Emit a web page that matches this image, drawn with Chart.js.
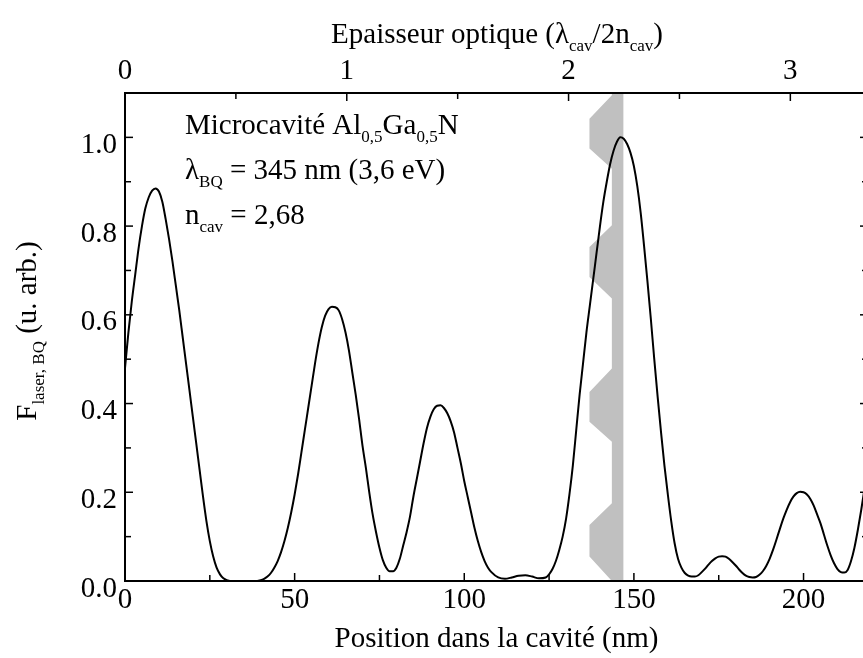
<!DOCTYPE html>
<html>
<head>
<meta charset="utf-8">
<script src="https://cdn.jsdelivr.net/npm/chart.js"></script>
<style>
  html, body { margin: 0; padding: 0; background: #fff; overflow: hidden; }
  #wrap { position: absolute; left: 0; top: 0; width: 870px; height: 658px; }
</style>
</head>
<body>
<div id="wrap"><canvas id="cavityChart" width="870" height="658"></canvas></div>
<script>
// Position dans la cavité (nm) -> F laser, BQ (u. arb.)
const positionNm = [
  0, 1, 2, 3, 4, 5, 6, 7, 8, 9, 10, 11, 12, 13, 14, 15, 16, 17, 18, 19,
  20, 21, 22, 23, 24, 25, 26, 27, 28, 29, 30, 32, 34, 36, 38, 40, 41, 42, 43, 44,
  45, 46, 47, 48, 49, 50, 51, 52, 53, 54, 55, 56, 57, 58, 59, 60, 61, 62, 63, 64,
  65, 66, 67, 68, 69, 70, 71, 72, 73, 74, 75, 76, 77, 78, 79, 80, 81, 82, 83, 84,
  85, 86, 87, 88, 89, 90, 91, 92, 93, 94, 95, 96, 97, 98, 99, 100, 101, 102, 103, 104,
  105, 106, 107, 108, 110, 112, 114, 116, 118, 120, 122, 124, 125, 126, 127, 128, 129, 130, 131, 132,
  133, 134, 135, 136, 137, 138, 139, 140, 141, 142, 143, 144, 145, 146, 147, 148, 149, 150, 151, 152,
  153, 154, 155, 156, 157, 158, 159, 160, 161, 162, 163, 164, 165, 166, 167, 168, 169, 170, 171, 172,
  173, 174, 175, 176, 177, 178, 179, 180, 181, 182, 183, 184, 185, 186, 187, 188, 189, 190, 191, 192,
  193, 194, 195, 196, 197, 198, 199, 200, 201, 202, 203, 204, 205, 206, 207, 208, 209, 210, 211, 212,
  213, 214, 215, 216, 217, 218, 219
];
const fieldValues = [
  0.48, 0.56, 0.63, 0.69, 0.75, 0.80, 0.84, 0.865, 0.88, 0.885, 0.878, 0.855, 0.815, 0.77, 0.72, 0.665, 0.61, 0.55, 0.49, 0.43,
  0.37, 0.31, 0.25, 0.19, 0.135, 0.09, 0.055, 0.03, 0.015, 0.006, 0.002, 0, 0, 0, 0, 0.002, 0.005, 0.01, 0.018, 0.03,
  0.045, 0.065, 0.09, 0.12, 0.155, 0.195, 0.24, 0.29, 0.34, 0.39, 0.44, 0.49, 0.535, 0.572, 0.598, 0.613, 0.618, 0.617, 0.61, 0.59,
  0.56, 0.52, 0.47, 0.42, 0.365, 0.305, 0.255, 0.2, 0.15, 0.11, 0.075, 0.047, 0.03, 0.022, 0.022, 0.03, 0.05, 0.08, 0.11, 0.145,
  0.19, 0.23, 0.27, 0.31, 0.345, 0.37, 0.387, 0.395, 0.396, 0.39, 0.378, 0.36, 0.335, 0.3, 0.265, 0.225, 0.19, 0.155, 0.12, 0.09,
  0.065, 0.045, 0.03, 0.02, 0.008, 0.005, 0.008, 0.012, 0.013, 0.01, 0.006, 0.008, 0.015, 0.027, 0.045, 0.07, 0.1, 0.14, 0.195, 0.26,
  0.34, 0.42, 0.49, 0.56, 0.62, 0.68, 0.74, 0.8, 0.855, 0.9, 0.94, 0.97, 0.99, 1.0, 0.997, 0.985, 0.965, 0.935, 0.89, 0.83,
  0.755, 0.675, 0.59, 0.5, 0.415, 0.335, 0.26, 0.195, 0.135, 0.085, 0.05, 0.03, 0.018, 0.012, 0.01, 0.01, 0.013, 0.02, 0.028, 0.037,
  0.045, 0.051, 0.055, 0.056, 0.055, 0.05, 0.043, 0.035, 0.026, 0.018, 0.012, 0.009, 0.008, 0.009, 0.014, 0.022, 0.034, 0.05, 0.07, 0.093,
  0.117, 0.14, 0.16, 0.177, 0.19, 0.198, 0.201, 0.2, 0.195, 0.185, 0.17, 0.15, 0.13, 0.105, 0.08, 0.058, 0.04, 0.027, 0.02, 0.019,
  0.025, 0.045, 0.075, 0.115, 0.16, 0.21, 0.26
];

// grey zone of the quantum wells (zigzag band)
const bandX = [146.9, 146.9, 143.5, 136.9, 136.9, 143.5, 143.5, 136.9, 136.9, 143.5, 143.5, 136.9, 136.9, 143.5, 143.5, 136.9, 136.9, 143.5, 143.5];
const bandY = [1.1, 0, 0, 0.055, 0.126, 0.175, 0.314, 0.359, 0.426, 0.479, 0.637, 0.685, 0.753, 0.802, 0.929, 0.975, 1.042, 1.095, 1.1];

// ticks
const xMajorTicks = [0, 50, 100, 150, 200];
const xTickLabels = ['0', '50', '100', '150', '200'];
const xMinorTicks = [25, 75, 125, 175];
const yMajorTicks = [0, 0.2, 0.4, 0.6, 0.8, 1.0];
const yTickLabels = ['0.0', '0.2', '0.4', '0.6', '0.8', '1.0'];
const yMinorTicks = [0.1, 0.3, 0.5, 0.7, 0.9];
const topMajorTicks = [0, 1, 2, 3];
const topTickLabels = ['0', '1', '2', '3'];
const topMinorTicks = [0.5, 1.5, 2.5];

const xMax = 219;
const nmPerOpticalUnit = 65.37; // lambda_cav / 2 n_cav

// texts (second item = 1 means subscript)
const topTitle = [['Epaisseur optique (λ'], ['cav', 1], ['/2n'], ['cav', 1], [')']];
const leftTitle = [['F'], ['laser, BQ', 1], [' (u. arb.)']];
const infoLines = [
  [['Microcavité Al'], ['0,5', 1], ['Ga'], ['0,5', 1], ['N']],
  [['λ'], ['BQ', 1], [' = 345 nm (3,6 eV)']],
  [['n'], ['cav', 1], [' = 2,68']]
];

const FONT = '"Liberation Serif", "Times New Roman", serif';
const SIZE = 29;
const SUB = 17;

function tickList(majors, minors) {
  return majors.concat(minors).sort((a, b) => a - b).map(v => ({ value: v }));
}

function labelOf(majors, labels) {
  return v => {
    const i = majors.indexOf(v);
    return i >= 0 ? labels[i] : '';
  };
}

// text with subscripts
function drawRich(ctx, parts, x, y, align, drop) {
  const widths = parts.map(p => {
    ctx.font = (p[1] ? SUB : SIZE) + 'px ' + FONT;
    return ctx.measureText(p[0]).width;
  });
  const total = widths.reduce((a, b) => a + b, 0);
  let cx = align === 'center' ? x - total / 2 : x;
  parts.forEach((p, i) => {
    ctx.font = (p[1] ? SUB : SIZE) + 'px ' + FONT;
    ctx.fillText(p[0], cx, p[1] ? y + drop : y);
    cx += widths[i];
  });
}

// frame + inward ticks + rich texts
const frameTicks = {
  id: 'frameTicks',
  afterDatasetsDraw(chart) {
    const { ctx, chartArea: a, scales } = chart;
    ctx.save();
    ctx.strokeStyle = '#000';
    ctx.lineWidth = 1.5;
    const seg = (x1, y1, x2, y2) => { ctx.beginPath(); ctx.moveTo(x1, y1); ctx.lineTo(x2, y2); ctx.stroke(); };
    scales.x.ticks.forEach(t => {
      const px = scales.x.getPixelForValue(t.value);
      seg(px, a.bottom, px, a.bottom - (t.label ? 8 : 6));
    });
    scales.x2.ticks.forEach(t => {
      const px = scales.x2.getPixelForValue(t.value);
      seg(px, a.top, px, a.top + (t.label ? 8 : 6));
    });
    scales.y.ticks.forEach(t => {
      const py = scales.y.getPixelForValue(t.value);
      seg(a.left, py, a.left + (t.label ? 8 : 6), py);
      seg(a.right, py, a.right - (t.label ? 8 : 6), py);
    });
    ctx.lineWidth = 2;
    ctx.strokeRect(a.left, a.top, a.right - a.left, a.bottom - a.top);
    ctx.restore();
  },
  afterDraw(chart) {
    const ctx = chart.ctx;
    ctx.save();
    ctx.fillStyle = '#000';
    ctx.textBaseline = 'alphabetic';
    ctx.textAlign = 'left';
    drawRich(ctx, topTitle, 497, 43, 'center', 8);
    infoLines.forEach((line, i) => drawRich(ctx, line, 185, 134 + i * 45, 'left', 8));
    ctx.translate(36, 331);
    ctx.rotate(-Math.PI / 2);
    drawRich(ctx, leftTitle, 0, 0, 'center', 8);
    ctx.restore();
  }
};

Chart.defaults.font.family = FONT;
Chart.defaults.color = '#000';

new Chart(document.getElementById('cavityChart'), {
  type: 'line',
  data: {
    datasets: [
      {
        label: 'F laser, BQ',
        data: positionNm.map((x, i) => ({ x: x, y: fieldValues[i] })),
        borderColor: '#000',
        borderWidth: 2,
        pointRadius: 0,
        fill: false,
        cubicInterpolationMode: 'monotone'
      },
      {
        label: 'Puits',
        data: bandX.map((x, i) => ({ x: x, y: bandY[i] })),
        borderWidth: 0,
        borderColor: 'rgba(0,0,0,0)',
        backgroundColor: '#c0c0c0',
        pointRadius: 0,
        fill: 'shape'
      }
    ]
  },
  options: {
    responsive: false,
    animation: false,
    devicePixelRatio: 1,
    layout: { padding: { left: 0, right: 2, top: 0, bottom: 0 } },
    plugins: { legend: { display: false }, tooltip: { enabled: false } },
    scales: {
      x: {
        type: 'linear', position: 'bottom', min: 0, max: xMax,
        afterBuildTicks: s => { s.ticks = tickList(xMajorTicks, xMinorTicks); },
        afterFit: s => { s.height = 77; },
        grid: { display: false, drawTicks: false }, border: { display: false },
        ticks: { autoSkip: false, maxRotation: 0, padding: 2, font: { size: SIZE }, callback: labelOf(xMajorTicks, xTickLabels) },
        title: { display: true, text: 'Position dans la cavité (nm)', font: { size: SIZE }, padding: { top: 0, bottom: 1 } }
      },
      x2: {
        type: 'linear', axis: 'x', position: 'top', min: 0, max: xMax / nmPerOpticalUnit,
        afterBuildTicks: s => { s.ticks = tickList(topMajorTicks, topMinorTicks); },
        afterFit: s => { s.height = 93; },
        grid: { display: false, drawTicks: false }, border: { display: false },
        ticks: { autoSkip: false, maxRotation: 0, padding: 4, font: { size: SIZE }, callback: labelOf(topMajorTicks, topTickLabels) }
      },
      y: {
        type: 'linear', position: 'left', min: 0, max: 1.1,
        afterBuildTicks: s => { s.ticks = tickList(yMajorTicks, yMinorTicks); },
        afterFit: s => { s.width = 125; },
        grid: { display: false, drawTicks: false }, border: { display: false },
        ticks: { autoSkip: false, padding: 8, labelOffset: 8, font: { size: SIZE }, callback: labelOf(yMajorTicks, yTickLabels) }
      }
    }
  },
  plugins: [frameTicks]
});
</script>
</body>
</html>
